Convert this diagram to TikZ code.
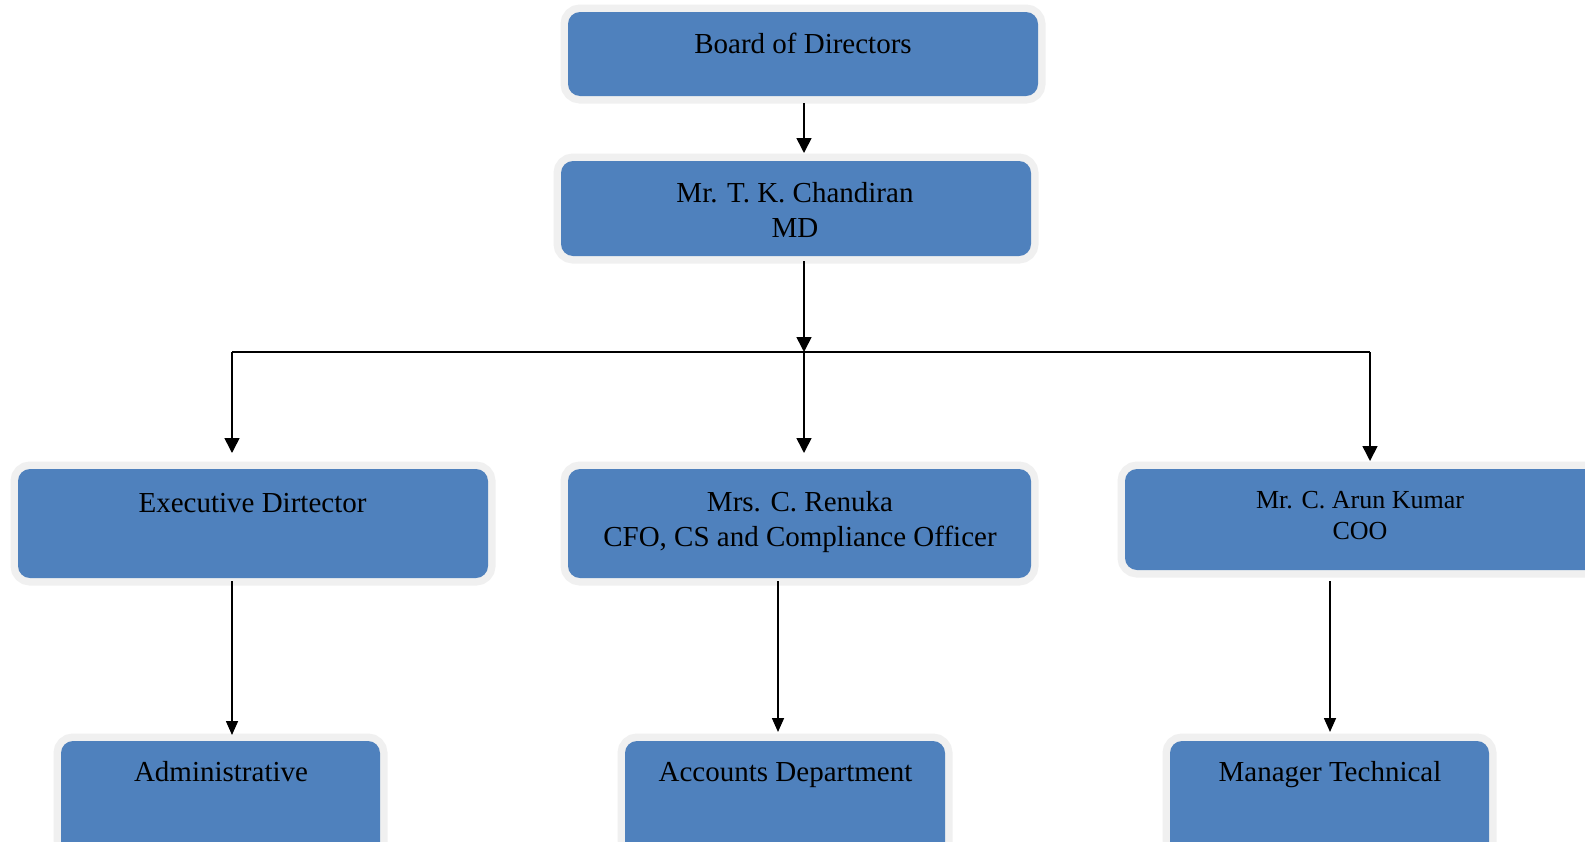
\documentclass[tikz,border=0pt]{standalone}
\usepackage{fontspec}
\setmainfont{Liberation Serif}
\usetikzlibrary{arrows.meta}
\definecolor{boxblue}{HTML}{4F81BD}
\definecolor{boxrim}{HTML}{F0F0F0}
\begin{document}
\begin{tikzpicture}[x=1pt,y=-1pt,
  orgbox/.style={rectangle, rounded corners=12pt, fill=boxblue, inner sep=0pt, outer sep=0pt,
    preaction={draw=boxrim, line width=15pt}},
  lbl/.style={inner sep=0pt, align=center, font=\fontsize{29}{35}\selectfont, anchor=base},
  lbls/.style={lbl, font=\fontsize{26}{31}\selectfont},
  conn/.style={line width=1.6pt, black},
  arr/.style={conn, -{Triangle[length=15pt,width=15pt]}},
  arrb/.style={conn, -{Triangle[length=14pt,width=12pt]}}]
\clip (0,0) rectangle (1585,841);
\useasboundingbox (0,0) rectangle (1585,841);
\fill[white] (0,0) rectangle (1585,841);

% boxes
\node[orgbox, minimum width=470pt, minimum height=84pt] (bod) at (803,54) {};
\node[orgbox, minimum width=470pt, minimum height=95pt] (md) at (796,208.5) {};
\node[orgbox, minimum width=470pt, minimum height=109pt] (ed) at (253,523.5) {};
\node[orgbox, minimum width=463pt, minimum height=109pt] (cfo) at (799.5,523.5) {};
\node[orgbox, minimum width=495pt, minimum height=101pt] (coo) at (1372.5,519.5) {};
\node[orgbox, minimum width=319pt, minimum height=140pt] (adm) at (220.5,811) {};
\node[orgbox, minimum width=320pt, minimum height=140pt] (acc) at (785,811) {};
\node[orgbox, minimum width=319pt, minimum height=140pt] (mgr) at (1329.5,811) {};

% texts (base anchor = baseline of last line)
\node[lbl] (bodt) at (803,53) {Board of Directors};
\node[lbl] (mdt) at (795,237) {Mr. T. K. Chandiran\\MD};
\node[lbl] (edt) at (252.5,512) {Executive Dirtector};
\node[lbl] (cfot) at (800,546) {Mrs. C. Renuka\\CFO, CS and Compliance Officer};
\node[lbls] (coot) at (1360,539) {Mr. C. Arun Kumar\\COO};
\node[lbl] (admt) at (221,781) {Administrative};
\node[lbl] (acct) at (785.5,781) {Accounts Department};
\node[lbl] (mgrt) at (1330,781) {Manager Technical};

% connector points
\coordinate (j) at (804,352);
\coordinate (jl) at (232,352);
\coordinate (jr) at (1370,352);
\coordinate (xc) at (778,600);
\coordinate (xr) at (1330,600);

% connectors
\draw[arr, shorten <=7pt, shorten >=8pt] (bod.south -| j) -- (md.north -| j);
\draw[arr, shorten <=5pt] (md.south -| j) -- (j);
\draw[conn] (jl) -- (jr);
\draw[arr, shorten >=16pt] (jl) -- (jl |- ed.north);
\draw[arr, shorten >=16pt] (j) -- (j |- cfo.north);
\draw[arr, shorten >=8pt] (jr) -- (jr |- coo.north);
\draw[arrb, shorten <=3pt, shorten >=6pt] (ed.south -| jl) -- (adm.north -| jl);
\draw[arrb, shorten <=3pt, shorten >=9pt] (cfo.south -| xc) -- (acc.north -| xc);
\draw[arrb, shorten <=11pt, shorten >=9pt] (coo.south -| xr) -- (mgr.north -| xr);
\end{tikzpicture}
\end{document}
